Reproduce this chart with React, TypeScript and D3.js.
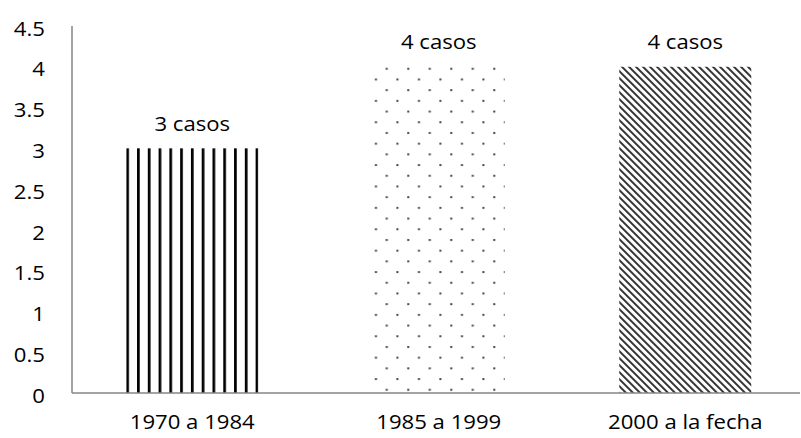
import React from "react";
import * as d3 from "d3";

const categories = ["1970 a 1984", "1985 a 1999", "2000 a la fecha"];
const values = [3, 4, 4];
const dataLabels = ["3 casos", "4 casos", "4 casos"];
const yTicks = [0, 0.5, 1, 1.5, 2, 2.5, 3, 3.5, 4, 4.5];
const patterns = ["vstripe", "dots", "diag"];

const W = 801;
const H = 438;
const FONT = "'Open Sans', 'Liberation Sans', sans-serif";
const SX = 1.08;
const FS = 20.5;

export default function App() {
  const x = d3.scaleBand<string>().domain(categories).range([69, 808.5]).padding(0);
  const y = d3.scaleLinear().domain([0, 4.5]).range([393, 26]);
  const barW = 132;
  const axisLeft = 72;
  const axisRight = 800;

  const fmt = (v: number) => (Number.isInteger(v) ? String(v) : v.toFixed(1));

  return (
    <svg
      width={W}
      height={H}
      style={{ position: "absolute", left: 0, top: 0, background: "#fff" }}
    >
      <defs>
        {categories.map((c, i) => {
          const bx = (x(c) as number) + x.bandwidth() / 2 - barW / 2;
          const by = y(values[i]);
          if (patterns[i] === "vstripe") {
            return (
              <pattern
                key={c}
                id={`pat${i}`}
                patternUnits="userSpaceOnUse"
                x={bx}
                y={0}
                width={10.78}
                height={10}
              >
                <rect x={0} y={0} width={2.7} height={10} fill="#000" />
              </pattern>
            );
          }
          if (patterns[i] === "dots") {
            return (
              <pattern
                key={c}
                id={`pat${i}`}
                patternUnits="userSpaceOnUse"
                x={bx}
                y={by}
                width={21.5}
                height={21.4}
              >
                <rect x={13} y={1} width={2} height={2} fill="#444" />
                <rect x={2.2} y={11.7} width={2} height={2} fill="#444" />
              </pattern>
            );
          }
          return (
            <pattern
              key={c}
              id={`pat${i}`}
              patternUnits="userSpaceOnUse"
              x={bx}
              y={by}
              width={4.95}
              height={10}
              patternTransform="rotate(-45)"
            >
              <rect x={0} y={0} width={2} height={10} fill="#333" />
            </pattern>
          );
        })}
      </defs>

      {/* bars */}
      {categories.map((c, i) => {
        const bx = (x(c) as number) + x.bandwidth() / 2 - barW / 2;
        return (
          <rect
            key={c}
            x={bx}
            y={y(values[i])}
            width={barW}
            height={y(0) - y(values[i])}
            fill={`url(#pat${i})`}
          />
        );
      })}

      {/* axes */}
      <line x1={axisLeft} x2={axisLeft} y1={y(4.5)} y2={y(0)} stroke="#868686" strokeWidth={1.5} />
      <line x1={axisLeft} x2={axisRight} y1={y(0)} y2={y(0)} stroke="#868686" strokeWidth={1.5} />

      {/* y tick labels */}
      {yTicks.map((t) => (
        <text
          key={t}
          transform={`translate(45,${y(t) + 1.5}) scale(${SX},1)`}
          textAnchor="end"
          dominantBaseline="central"
          fontFamily={FONT}
          fontSize={FS}
          fill="#000"
        >
          {fmt(t)}
        </text>
      ))}

      {/* data labels */}
      {categories.map((c, i) => (
        <text
          key={c}
          transform={`translate(${(x(c) as number) + x.bandwidth() / 2},${y(values[i]) - 26}) scale(${SX},1)`}
          textAnchor="middle"
          dominantBaseline="central"
          fontFamily={FONT}
          fontSize={FS}
          fill="#000"
        >
          {dataLabels[i]}
        </text>
      ))}

      {/* category labels */}
      {categories.map((c) => (
        <text
          key={c}
          transform={`translate(${(x(c) as number) + x.bandwidth() / 2},421) scale(${SX},1)`}
          textAnchor="middle"
          dominantBaseline="central"
          fontFamily={FONT}
          fontSize={FS}
          fill="#000"
        >
          {c}
        </text>
      ))}
    </svg>
  );
}
